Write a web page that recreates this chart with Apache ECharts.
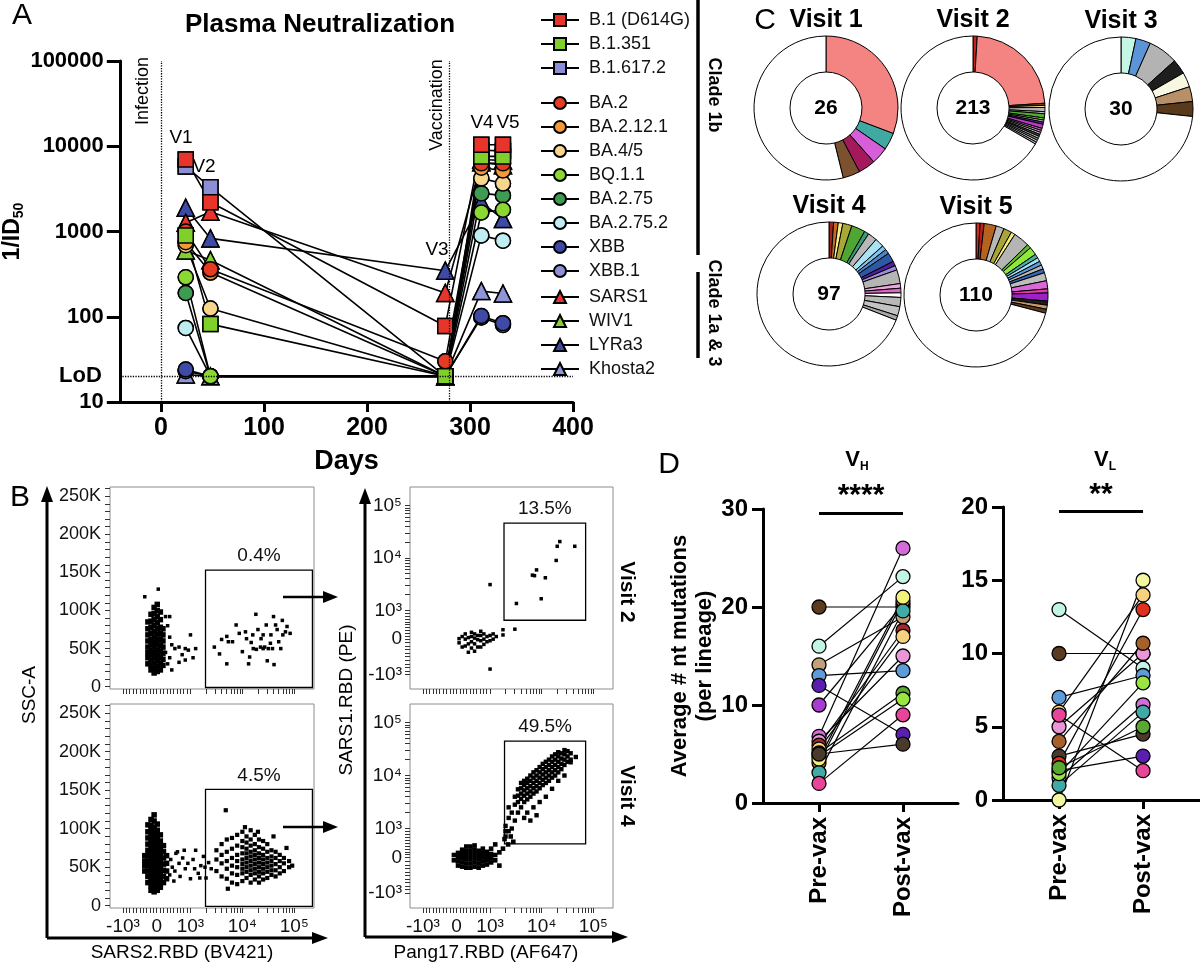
<!DOCTYPE html>
<html>
<head>
<meta charset="utf-8">
<title>Plasma neutralization and lineages</title>
<script src="https://cdn.jsdelivr.net/npm/echarts@6.0.0/dist/echarts.min.js"></script>
<style>
  html, body { margin: 0; padding: 0; background: #fff; }
  #chart { width: 1200px; height: 965px; }
</style>
</head>
<body>
<div id="chart"></div>
<script>
const FONT = '"Liberation Sans", Arial, Helvetica, sans-serif';

// ---------- A: plasma neutralization ----------
const visitDays = [24, 48, 276, 311, 332];
const variantNames = ['B.1 (D614G)', 'B.1.351', 'B.1.617.2', 'BA.2', 'BA.2.12.1', 'BA.4/5', 'BQ.1.1',
  'BA.2.75', 'BA.2.75.2', 'XBB', 'XBB.1', 'SARS1', 'WIV1', 'LYRa3', 'Khosta2'];
const variantSymbols = ['rect', 'rect', 'rect', 'circle', 'circle', 'circle', 'circle', 'circle',
  'circle', 'circle', 'circle', 'triangle', 'triangle', 'triangle', 'triangle'];
const variantColors = ['#e8352b', '#7fd12a', '#8c8fd6', '#e63a22', '#f29a3a', '#f6d68c', '#8bd832',
  '#3e9b52', '#bfeef2', '#3f4aa6', '#8f8fd6', '#e8352b', '#82d02e', '#3f4aa6', '#9095d8'];
const neutTiters = [
  [7000, 2200, 78, 10400, 10400],
  [900, 82, 20, 7600, 7600],
  [5800, 3300, 20, 9000, 8800],
  [1000, 360, 30, 6300, 6300],
  [750, 330, 20, 5600, 5200],
  [690, 125, 20, 4200, 3650],
  [290, 20, 20, 1670, 1800],
  [190, 20, 20, 2800, 2650],
  [74, 20, 20, 900, 780],
  [24, 20, 20, 102, 84],
  [23, 20, 20, 98, 80],
  [1270, 1700, 190, 6500, 6000],
  [600, 460, 20, 7000, 6800],
  [1900, 830, 347, 2200, 1400],
  [21, 20, 20, 200, 187]
];
const lodValue = 20;
const infectionDay = 0;
const vaccinationDay = 280;
const dayTicks = [0, 100, 200, 300, 400];

// ---------- B: flow cytometry (biexponential display units) ----------
const biexLabels = ['-10\u00b3', '0', '10\u00b3', '10\u2074', '10\u2075'];
const biexXPos = [1.7, 2.35, 3, 4, 5];
const biexYPos = [1.78, 2.45, 3, 4, 5];
const sscTicks = [0, 50, 100, 150, 200, 250];
const gatePercents = ['0.4%', '4.5%', '13.5%', '49.5%'];
// "x:y,y,y;x:y..."  columns of events
const tlBlob = '2.18:30,38,45,52,60,68,76,85;2.24:22,28,35,42,48,55,62,70,78,86,95;2.3:18,24,31,38,45,52,58,65,72,80,88,96,104;2.36:20,27,34,41,48,55,62,69,76,84,92,100,108;2.42:22,30,38,46,54,62,70,78,88,98;2.47:28,36,44,52,60,68,76';
const tlSpread = '2.12:118;2.38:128;2.52:45,92;2.56:80,30;2.6:92,65,38;2.64:55,22;2.7:50;2.78:52,32;2.84:42;2.9:50,35;2.96:48;3.0:68;3.05:38;3.1:50';
const tlGate = '3.46:52;3.56:43;3.6:62;3.7:30,66;3.73:59;3.81:59;3.88:81;3.94:70;4.0:46;4.06:72;4.08:63;4.12:30;4.14:39;4.17:58;4.2:68;4.21:50;4.26:95;4.27:49;4.3:75;4.35:52;4.36:63;4.4:68,50;4.43:52;4.46:81;4.48:34;4.5:50;4.54:57;4.55:68;4.58:50;4.6:92;4.61:29;4.64:81;4.67:75;4.7:59;4.74:50;4.77:87;4.78:68;4.83:72;4.86:79;4.92:70';
const blBlob = '2.12:45,52,58,65;2.18:30,38,45,52,58,65,72,80,88,96,105;2.24:20,26,32,38,44,50,56,62,68,74,80,86,92,98,104,112;2.3:18,24,30,36,42,48,54,60,66,72,78,84,90,96,102,110,118;2.36:20,26,32,38,44,50,56,62,68,74,80,86,92,98,106;2.42:24,30,36,42,48,54,60,66,72,78,84,92;2.48:30,38,46,54,62,70,78;2.54:35,45,55,65';
const blBridge = '2.6:40;2.62:60;2.65:50;2.68:32;2.7:45;2.72:68;2.75:70;2.78:55;2.8:38;2.85:62;2.88:72;2.9:48;2.95:55;3.0:35;3.05:60;3.08:48;3.1:72;3.15:42;3.18:36;3.2:52;3.25:64;3.28:50;3.3:36;3.35:56;3.4:48';
const blGate = '3.5:45,60,72;3.6:38,55,66,80;3.7:35,48,58,70,86;3.8:30,42,52,62,74,88;3.9:28,40,50,58,66,78,92;4.0:32,42,48,54,60,68,76,84,96;4.08:36,44,50,56,62,68,74,82,90;4.16:30,40,46,52,58,64,70,78,86,98;4.24:34,42,48,54,60,66,72,80,92;4.32:30,38,44,50,56,62,68,76,86;4.4:34,42,48,54,60,66,74,84;4.48:36,44,50,56,62,70,80;4.56:40,46,52,58,64,72;4.64:38,46,54,62,70;4.72:42,50,58,66;4.8:45,55,62;4.9:50,58;3.68:124;3.72:22;4.05:102;4.3:96;4.6:90;4.85:75;4.96:52';
const trCluster = '2.4:2.38,2.46;2.46:2.3,2.5;2.52:2.32,2.45,2.55;2.58:2.2,2.36,2.48;2.64:2.28,2.4,2.5,2.58;2.7:2.22,2.36,2.47,2.55;2.76:2.3,2.44,2.52;2.82:2.3,2.42,2.52,2.6;2.88:2.35,2.45,2.55;2.94:2.4,2.5;3.0:2.42,2.52,3.49,1.88;3.06:2.45,2.55;3.12:2.5;3.25:2.63,2.53;3.48:2.64';
const trGate = '3.51:3.13;3.82:3.67;3.86:3.66;3.9:3.77;3.99:3.22;4.07:3.62;4.28:3.95;4.3:4.22;4.35:4.31;4.64:4.22';
const brCluster = '2.3:2.4,2.5;2.38:2.3,2.38,2.46,2.54;2.46:2.28,2.36,2.44,2.52,2.6;2.54:2.26,2.34,2.42,2.5,2.58,2.66;2.62:2.26,2.34,2.42,2.5,2.58,2.66;2.7:2.28,2.36,2.44,2.52,2.6,2.68;2.78:2.26,2.34,2.42,2.5,2.58;2.86:2.3,2.38,2.46,2.54,2.62;2.94:2.32,2.4,2.48,2.56;3.02:2.36,2.44,2.52,2.62;3.1:2.4,2.5,2.7;3.18:2.3,2.55;3.25:2.62;3.28:2.8;3.3:2.95;3.35:2.7;3.4:2.85;3.45:2.75';
const brDiag = '3.3:2.85,3.05;3.36:2.95,3.2,3.4;3.42:3.0,3.3;3.48:3.15,3.45,3.6;3.54:3.3,3.5,3.62,3.74;3.6:3.4,3.56,3.66,3.76,3.86;3.66:3.2,3.5,3.62,3.72,3.82,3.9;3.72:3.3,3.55,3.66,3.76,3.86,3.94;3.78:3.15,3.6,3.7,3.8,3.9,4.0;3.84:3.4,3.66,3.76,3.86,3.96,4.06;3.9:3.25,3.7,3.8,3.9,4.0,4.1;3.96:3.5,3.76,3.86,3.96,4.06,4.16;4.02:3.82,3.92,4.02,4.12,4.22;4.08:3.6,3.86,3.96,4.06,4.16,4.26;4.14:3.9,4.0,4.1,4.2,4.3;4.2:3.75,3.96,4.06,4.16,4.26,4.36;4.26:4.0,4.1,4.2,4.3,4.4;4.32:3.9,4.06,4.16,4.26,4.36,4.44;4.38:4.12,4.22,4.32,4.42;4.44:4.0,4.2,4.3,4.4,4.48;4.5:4.26,4.36,4.46;4.56:4.3,4.42,4.25;4.66:4.35';

// ---------- C: clonal lineages per visit ----------
const visit1Counts = [8, 1, 1, 1, 1, 14];
const visit1Colors = ['#f48481', '#3fa9a2', '#d65ed8', '#a3195b', '#7b5130', '#ffffff'];
const visit2Counts = [2, 49, 1, 1, 2, 1, 2, 1, 1, 1, 2, 1, 1, 1, 1, 1, 1, 1, 1, 142];
const visit2Colors = ['#c8221f', '#f48481', '#7a3e12', '#f5e089', '#b5b5b5', '#c8c8c8', '#4fae2f', '#7ed24a', '#b0b0b0', '#6a2aa8',
  '#b63cc0', '#e158d6', '#a8a8a8', '#c0c0c0', '#4a4a4a', '#b5b5b5', '#999999', '#d0d0d0', '#b0b0b0', '#ffffff'];
const visit3Counts = [1, 1, 2, 1, 1, 1, 1, 22];
const visit3Colors = ['#c5f7e6', '#5b95d8', '#b3b3b3', '#1e1e1e', '#f8f8e2', '#b89068', '#5b3a1b', '#ffffff'];
const visit4Counts = [1, 1, 1, 2, 3, 1, 2, 2, 1, 1, 2, 1, 1, 3, 1, 1, 1, 2, 2, 1, 67];
const visit4Colors = ['#a3221c', '#c46a22', '#f6ea8a', '#a9a836', '#4fa632', '#3b9c7c', '#b8b8b8', '#a9e3f3', '#7fc4ea', '#4f86c8',
  '#2d58a3', '#4f1fa0', '#9a8ad8', '#b5b5b5', '#eaa8dc', '#e264c8', '#ffffff', '#b8b8b8', '#c2c2c2', '#a8a8a8', '#ffffff'];
const visit5Counts = [1, 1, 3, 2, 2, 1, 4, 1, 2, 1, 1, 1, 1, 1, 2, 2, 1, 2, 1, 1, 1, 78];
const visit5Colors = ['#d42a1e', '#b82020', '#b8621f', '#b8b8b8', '#a8a43a', '#f6f07a', '#b5b5b5', '#62b82e', '#8fe83a', '#48b0a0',
  '#a5def2', '#5b9ad8', '#b5b5b5', '#3565b5', '#bdbdbd', '#d86ad8', '#e23aa8', '#9a22c8', '#1e1e1e', '#c79a6a', '#5b3a1b', '#ffffff'];

// ---------- D: nt mutations pre/post vaccination ----------
const vaxGroups = ['Pre-vax', 'Post-vax'];
const vhPre = [20, 16, 14.1, 13, 12, 10, 6.8, 6.3, 5.9, 5.5, 5.1, 4.8, 4.1, 3.1, 2.0, 4.5, 5.0];
const vhPost = [20, 23.1, 19, 13.5, 7, 20.3, 26, 15, 17.6, 17, 11.2, 10.6, 20.6, 19.6, 9, 21, 6];
const vhColors = ['#5c3b1e', '#c2f5e6', '#c4a07a', '#5e9bd9', '#5a1fb0', '#a83cd0', '#d36bd8', '#ea96d8', '#a32a2a',
  '#f7d27e', '#5aa832', '#9ae542', '#c8701f', '#3faaa6', '#e8449a', '#f2f27a', '#4a3a2e'];
const vlPre = [13, 10, 7, 6, 5, 4, 3, 2, 1.5, 1.0, 0, 2.5, 1.8, 2.2, 5.8];
const vlPost = [9, 10, 8.5, 14, 10, 10.7, 4.5, 3, 6.5, 6, 15, 13, 8, 5, 2];
const vlColors = ['#c2f5e6', '#5c3b1e', '#5e9bd9', '#f7d27e', '#ea96d8', '#a8602a', '#4a3a2e', '#5a1fb0', '#d36bd8',
  '#3faaa6', '#f2f7a0', '#e0301e', '#9ae542', '#5aa832', '#e8449a'];

// ---------- helpers ----------
function cols(str) {
  const out = [];
  str.split(';').forEach(function (part) {
    const p = part.split(':');
    p[1].split(',').forEach(function (y) { out.push([+p[0], +y]); });
  });
  return out;
}
function minorTicks(p) {
  const t = p.slice();
  for (let m = 1; m < 10; m++) {
    t.push(p[0] + (p[1] - p[0]) * m / 10);
    t.push(p[1] + (p[2] - p[1]) * m / 10);
  }
  for (let m = 2; m < 10; m++) {
    t.push(p[2] + Math.log10(m) * (p[3] - p[2]));
    t.push(p[3] + Math.log10(m) * (p[4] - p[3]));
  }
  return t;
}
function biexText(pos, p) {
  const i = p.findIndex(function (v) { return Math.abs(v - pos) < 1e-6; });
  return i < 0 ? '' : biexLabels[i];
}
function txt(x, y, text, size, weight, extra) {
  const el = {
    type: 'text', x: x, y: y, silent: true,
    style: { text: text, fill: '#000', fontSize: size, fontWeight: weight || 'normal', fontFamily: FONT,
      align: 'center', verticalAlign: 'middle' }
  };
  if (extra) {
    if (extra.rotation) el.rotation = extra.rotation;
    if (extra.rich) el.style.rich = extra.rich;
  }
  return el;
}
function line(x1, y1, x2, y2, w) {
  return { type: 'line', silent: true, shape: { x1: x1, y1: y1, x2: x2, y2: y2 }, style: { stroke: '#000', lineWidth: w || 3 } };
}
function head(points) {
  return { type: 'polygon', silent: true, shape: { points: points }, style: { fill: '#000' } };
}

// ---------- axes ----------
const grids = [
  { left: 113, top: 61, width: 460, height: 341 },      // A
  { left: 110, top: 487, width: 204, height: 202 },     // B visit 2 left
  { left: 110, top: 704, width: 204, height: 204 },     // B visit 4 left
  { left: 410, top: 487, width: 203, height: 202 },     // B visit 2 right
  { left: 410, top: 704, width: 203, height: 204 },     // B visit 4 right
  { left: 763, top: 509, width: 195, height: 294 },     // D VH
  { left: 1003, top: 507, width: 197, height: 293 }     // D VL
];
grids.forEach(function (g, i) {
  if (i >= 1 && i <= 4) { g.show = true; g.borderColor = '#8c8c8c'; g.borderWidth = 1; g.backgroundColor = 'transparent'; }
});

const xAxes = [], yAxes = [];
xAxes.push({
  gridIndex: 0, type: 'value', min: -40, max: 400,
  axisLine: { onZero: false, lineStyle: { color: '#000', width: 3 } },
  axisTick: { customValues: dayTicks, length: 10, lineStyle: { width: 3, color: '#000' } },
  axisLabel: { customValues: dayTicks, fontSize: 25, fontWeight: 'bold', color: '#000', margin: 14, fontFamily: FONT },
  splitLine: { show: false },
  name: 'Days', nameLocation: 'middle', nameGap: 46,
  nameTextStyle: { fontSize: 27, fontWeight: 'bold', color: '#000', fontFamily: FONT }
});
yAxes.push({
  gridIndex: 0, type: 'log', logBase: 10, min: 10, max: 100000,
  axisLine: { show: true, onZero: false, lineStyle: { color: '#000', width: 3 } },
  axisTick: { show: true, length: 13, lineStyle: { width: 3, color: '#000' } },
  axisLabel: { fontSize: 22, fontWeight: 'bold', color: '#000', margin: 16, fontFamily: FONT,
    formatter: function (v) { return String(Math.round(v)); } },
  splitLine: { show: false }, minorTick: { show: false },
  name: '{a|1/ID}{s|50}', nameLocation: 'middle', nameGap: 80, nameRotate: 90,
  nameTextStyle: { rich: {
    a: { fontSize: 23, fontWeight: 'bold', fontFamily: FONT, color: '#000', lineHeight: 28 },
    s: { fontSize: 14, fontWeight: 'bold', fontFamily: FONT, color: '#000', verticalAlign: 'bottom' } } }
});
// flow axes
for (let k = 1; k <= 4; k++) {
  const right = k >= 3, bottom = (k === 2 || k === 4);
  xAxes.push({
    gridIndex: k, type: 'value', min: 1.45, max: 5.38,
    axisLine: { show: false, onZero: false }, splitLine: { show: false },
    axisTick: { show: true, customValues: minorTicks(biexXPos), length: 5, lineStyle: { color: '#333', width: 1 } },
    axisLabel: { show: bottom, customValues: biexXPos, margin: 9, fontSize: 19, fontFamily: FONT, color: '#111',
      formatter: function (v) { return biexText(v, biexXPos); } }
  });
  if (right) {
    yAxes.push({
      gridIndex: k, type: 'value', min: 1.5, max: 5.35,
      axisLine: { show: false, onZero: false }, splitLine: { show: false },
      axisTick: { show: true, customValues: minorTicks(biexYPos), length: 5, lineStyle: { color: '#333', width: 1 } },
      axisLabel: { customValues: biexYPos, margin: 8, fontSize: 19, fontFamily: FONT, color: '#111',
        formatter: function (v) { return biexText(v, biexYPos); } }
    });
  } else {
    const sscMinor = [];
    for (let v = 0; v <= 260; v += 10) sscMinor.push(v);
    yAxes.push({
      gridIndex: k, type: 'value', min: -3, max: 262,
      axisLine: { show: false, onZero: false }, splitLine: { show: false },
      axisTick: { show: true, customValues: sscMinor, length: 5, lineStyle: { color: '#333', width: 1 } },
      axisLabel: { customValues: sscTicks, margin: 9, fontSize: 18, color: '#111', fontFamily: FONT,
        formatter: function (v) { return v === 0 ? '0' : v + 'K'; } }
    });
  }
}
// D axes
[[5, 30, 10, 1.655], [6, 20, 5, 1.678]].forEach(function (d) {
  xAxes.push({
    gridIndex: d[0], type: 'value', min: -0.667, max: d[3],
    axisLine: { onZero: false, lineStyle: { color: '#000', width: 3 } },
    axisTick: { customValues: [0, 1], length: 9, lineStyle: { width: 3, color: '#000' } },
    axisLabel: { customValues: [0, 1], rotate: 90, margin: 14, fontSize: 24, fontWeight: 'bold', color: '#000', fontFamily: FONT,
      formatter: function (v) { return vaxGroups[Math.round(v)]; } },
    splitLine: { show: false }
  });
  const ya = {
    gridIndex: d[0], type: 'value', min: 0, max: d[1], interval: d[2],
    axisLine: { show: true, onZero: false, lineStyle: { color: '#000', width: 3 } },
    axisTick: { show: true, length: 11, lineStyle: { width: 3, color: '#000' } },
    axisLabel: { fontSize: 24, fontWeight: 'bold', color: '#000', margin: 15, fontFamily: FONT },
    splitLine: { show: false }
  };
  if (d[0] === 5) {
    ya.name = 'Average # nt mutations\n(per lineage)';
    ya.nameLocation = 'middle';
    ya.nameGap = 46;
    ya.nameTextStyle = { fontSize: 22, fontWeight: 'bold', color: '#000', fontFamily: FONT, lineHeight: 25 };
  }
  yAxes.push(ya);
});

// ---------- series ----------
const series = [];
function symSize(s) { return s === 'triangle' ? 17 : 15; }
variantNames.forEach(function (name, i) {
  const s = {
    type: 'line', name: name, xAxisIndex: 0, yAxisIndex: 0, z: 2, silent: true,
    data: visitDays.map(function (d, j) { return [d, neutTiters[i][j]]; }),
    symbol: variantSymbols[i], symbolSize: symSize(variantSymbols[i]),
    itemStyle: { color: variantColors[i], borderColor: '#000', borderWidth: 1.5 },
    lineStyle: { color: '#000', width: 1.6 },
    emphasis: { disabled: true }
  };
  if (i === 0) {
    s.markLine = {
      silent: true, symbol: ['none', 'none'], animation: false,
      lineStyle: { color: '#000', type: 'dotted', width: 1.3 },
      label: { show: false },
      data: [
        { yAxis: lodValue, label: { show: true, position: 'start', distance: 18, formatter: 'LoD',
          fontSize: 22, fontWeight: 'bold', color: '#000', fontFamily: FONT } },
        { xAxis: infectionDay }, { xAxis: vaccinationDay }
      ]
    };
  }
  series.push(s);
});
for (let i = variantNames.length - 1; i >= 0; i--) {
  series.push({
    type: 'scatter', name: variantNames[i], xAxisIndex: 0, yAxisIndex: 0, z: 3, silent: true,
    data: visitDays.map(function (d, j) { return [d, neutTiters[i][j]]; }),
    symbol: variantSymbols[i], symbolSize: symSize(variantSymbols[i]),
    itemStyle: { color: variantColors[i], borderColor: '#000', borderWidth: 1.5, opacity: 1 },
    emphasis: { disabled: true }
  });
}

// flow events
function flow(k, str, size, gate) {
  const s = {
    type: 'scatter', xAxisIndex: k, yAxisIndex: k, silent: true, symbol: 'rect', symbolSize: size,
    data: cols(str), itemStyle: { color: '#000', opacity: 1 }, emphasis: { disabled: true }
  };
  if (gate) {
    s.markArea = {
      silent: true,
      itemStyle: { color: 'rgba(0,0,0,0)', borderColor: '#000', borderWidth: 1.3 },
      label: { show: true, position: 'top', distance: 4, formatter: gate[4], fontSize: 19, color: '#111', fontFamily: FONT },
      data: [[{ xAxis: gate[0], yAxis: gate[1] }, { xAxis: gate[2], yAxis: gate[3] }]]
    };
  }
  series.push(s);
}
flow(1, tlBlob, 5.5, [3.29, -1, 5.35, 153, gatePercents[0]]);
flow(1, tlSpread, 3.5);
flow(1, tlGate, 3.5);
flow(2, blBlob, 5.5, [3.29, -1, 5.35, 151, gatePercents[1]]);
flow(2, blBridge, 3.5);
flow(2, blGate, 4.2);
flow(3, trCluster, 3.5, [3.27, 2.81, 4.85, 4.66, gatePercents[2]]);
flow(3, trGate, 3.5);
flow(4, brCluster, 4.6, [3.28, 2.71, 4.85, 4.65, gatePercents[3]]);
flow(4, brDiag, 4.4);

// pies
const pieSets = [
  [visit1Counts, visit1Colors, [826, 108], 'Visit 1'],
  [visit2Counts, visit2Colors, [973, 108], 'Visit 2'],
  [visit3Counts, visit3Colors, [1121, 109], 'Visit 3'],
  [visit4Counts, visit4Colors, [829, 294], 'Visit 4'],
  [visit5Counts, visit5Colors, [976, 295], 'Visit 5']
];
pieSets.forEach(function (p) {
  series.push({
    type: 'pie', center: p[2], radius: [36, 72], startAngle: 90, clockwise: true, silent: true,
    label: { show: false }, labelLine: { show: false }, emphasis: { disabled: true },
    itemStyle: { borderColor: '#000', borderWidth: 1 },
    data: p[0].map(function (c, i) { return { value: c, itemStyle: { color: p[1][i] } }; })
  });
});

// paired dots
function paired(k, pre, post, colors, stars, barY) {
  pre.forEach(function (v, i) {
    series.push({
      type: 'line', xAxisIndex: k, yAxisIndex: k, z: 2, silent: true, showSymbol: false, symbol: 'none',
      data: [[0, v], [1, post[i]]], lineStyle: { color: '#000', width: 1.2 }, emphasis: { disabled: true }
    });
  });
  const pts = [];
  pre.forEach(function (v, i) {
    pts.push({ value: [0, v], itemStyle: { color: colors[i] } });
    pts.push({ value: [1, post[i]], itemStyle: { color: colors[i] } });
  });
  series.push({
    type: 'scatter', xAxisIndex: k, yAxisIndex: k, z: 3, silent: true, symbol: 'circle', symbolSize: 14,
    data: pts, itemStyle: { borderColor: '#000', borderWidth: 1.3, opacity: 1 }, emphasis: { disabled: true },
    markLine: {
      silent: true, symbol: ['none', 'none'], animation: false,
      lineStyle: { color: '#000', type: 'solid', width: 3 },
      label: { show: true, position: 'insideMiddleTop', distance: 2, formatter: stars, fontSize: 30, fontWeight: 'bold', color: '#000', fontFamily: FONT },
      data: [[{ coord: [0, barY] }, { coord: [1, barY] }]]
    }
  });
}
paired(5, vhPre, vhPost, vhColors, '****', 29.6);
paired(6, vlPre, vlPost, vlColors, '**', 19.7);

// ---------- legends ----------
function legend(names, top) {
  return {
    data: names, top: top, left: 535, orient: 'vertical', selectedMode: false,
    itemWidth: 38, itemHeight: 15, itemGap: 6,
    textStyle: { fontSize: 18, color: '#111', fontFamily: FONT, lineHeight: 15, padding: [0, 0, 0, 5] }
  };
}

// ---------- annotations ----------
const graphics = [
  txt(22, 16, 'A', 30), txt(20, 498, 'B', 30), txt(765, 21, 'C', 30), txt(669, 465, 'D', 30),
  txt(320, 25, 'Plasma Neutralization', 26, 'bold'),
  txt(143, 91, 'Infection', 18, 'normal', { rotation: Math.PI / 2 }),
  txt(437, 105, 'Vaccination', 18, 'normal', { rotation: Math.PI / 2 }),
  txt(181, 138, 'V1', 19), txt(204, 167, 'V2', 19), txt(437, 250, 'V3', 19),
  txt(482, 123, 'V4', 19), txt(508, 123, 'V5', 19),
  line(698, 0, 698, 255, 3.5), txt(714, 95, 'Clade 1b', 18, 'bold', { rotation: -Math.PI / 2 }),
  line(698, 272, 698, 358, 3.5), txt(714, 313, 'Clade 1a & 3', 18, 'bold', { rotation: -Math.PI / 2 }),
  // B axes
  line(47, 938, 47, 498, 3), head([[47, 486], [41, 502], [53, 502]]),
  line(47, 938, 316, 938, 3), head([[328, 938], [312, 932], [312, 944]]),
  line(365, 937, 365, 500, 3), head([[365, 488], [359, 504], [371, 504]]),
  line(365, 937, 616, 937, 3), head([[628, 937], [612, 931], [612, 943]]),
  txt(30, 695, 'SSC-A', 19, 'normal', { rotation: Math.PI / 2 }),
  txt(182, 953, 'SARS2.RBD (BV421)', 19),
  txt(347, 700, 'SARS1.RBD (PE)', 19, 'normal', { rotation: Math.PI / 2 }),
  txt(486, 953, 'Pang17.RBD (AF647)', 19),
  line(283, 597, 325, 597, 2.5), head([[338, 597], [323, 591], [323, 603]]),
  line(283, 827, 325, 827, 2.5), head([[338, 827], [323, 821], [323, 833]]),
  txt(627, 592, 'Visit 2', 21, 'bold', { rotation: -Math.PI / 2 }),
  txt(627, 796, 'Visit 4', 21, 'bold', { rotation: -Math.PI / 2 }),
  // D titles
  txt(857, 460, '{v|V}{s|H}', 20, 'bold', { rich: {
    v: { fontSize: 22, fontWeight: 'bold', fontFamily: FONT, lineHeight: 26 },
    s: { fontSize: 12, fontWeight: 'bold', fontFamily: FONT, verticalAlign: 'bottom' } } }),
  txt(1105, 460, '{v|V}{s|L}', 20, 'bold', { rich: {
    v: { fontSize: 22, fontWeight: 'bold', fontFamily: FONT, lineHeight: 26 },
    s: { fontSize: 12, fontWeight: 'bold', fontFamily: FONT, verticalAlign: 'bottom' } } })
];
pieSets.forEach(function (p) {
  const total = p[0].reduce(function (a, b) { return a + b; }, 0);
  graphics.push(txt(p[2][0], p[2][1], String(total), 21, 'bold'));
  graphics.push(txt(p[2][0], p[2][1] - 88, p[3], 25, 'bold'));
});

const chart = echarts.init(document.getElementById('chart'), null, { renderer: 'canvas' });
chart.setOption({
  animation: false,
  backgroundColor: '#fff',
  textStyle: { fontFamily: FONT },
  grid: grids,
  xAxis: xAxes,
  yAxis: yAxes,
  legend: [
    legend(variantNames.slice(0, 3), 6),
    legend(variantNames.slice(3, 11), 89),
    legend(variantNames.slice(11), 283)
  ],
  series: series,
  graphic: graphics
});
</script>
</body>
</html>
